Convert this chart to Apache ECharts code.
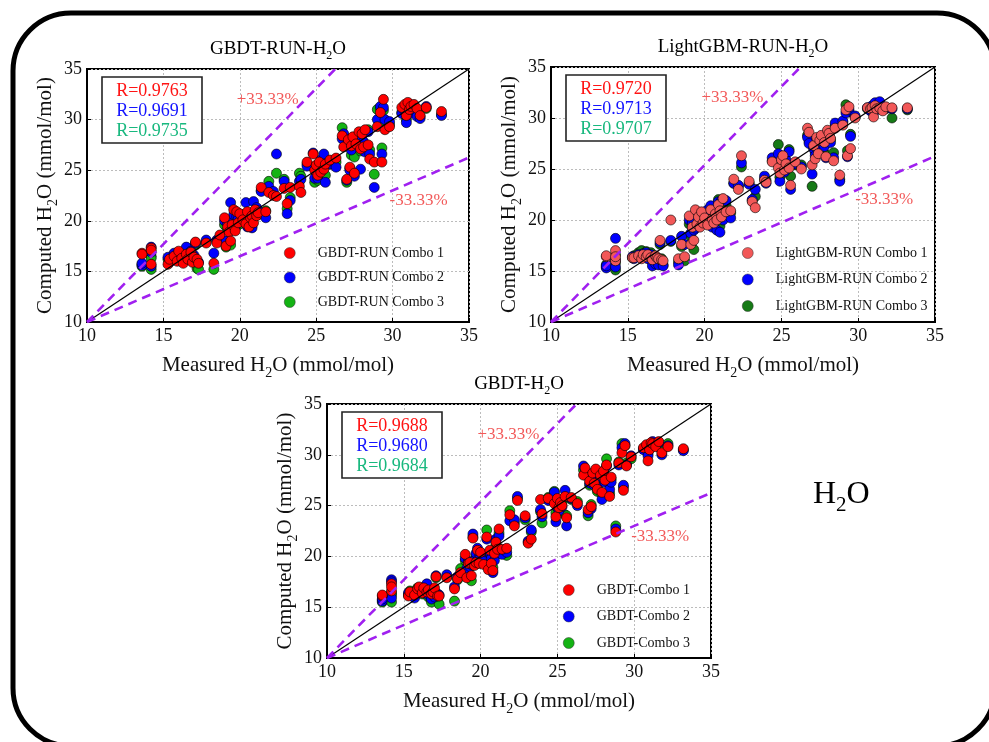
<!DOCTYPE html>
<html>
<head>
<meta charset="utf-8">
<script src="https://cdn.jsdelivr.net/npm/echarts@6/dist/echarts.min.js"></script>
<style>
  html, body { margin: 0; padding: 0; background: #ffffff; }
  #chart { width: 989px; height: 742px; }
</style>
</head>
<body>
<div id="chart"></div>
<script>
// Measured H2O (mmol/mol), shared by every model panel
const measured = [
  13.6,13.6,14.2,14.2,14.2,15.3,15.4,15.7,15.9,16.0,
  16.2,16.3,16.5,16.6,16.8,16.9,17.0,17.1,17.2,17.3,
  17.8,18.3,18.5,18.7,19.0,19.1,19.2,19.3,19.4,19.5,
  19.6,19.7,19.8,19.9,20.0,20.2,20.4,20.5,20.6,20.7,
  20.8,20.9,21.0,21.1,21.2,21.4,21.7,21.9,22.2,22.4,
  22.9,23.1,23.3,23.9,24.0,24.4,24.8,24.9,25.0,25.1,
  25.2,25.3,25.5,25.6,25.9,26.3,26.7,26.8,27.0,27.1,
  27.2,27.3,27.4,27.5,27.6,27.8,27.9,28.0,28.1,28.2,
  28.4,28.5,28.8,29.0,29.2,29.3,29.4,29.5,29.8,30.6,
  30.8,30.9,31.0,31.1,31.2,31.4,31.6,31.8,32.2,33.2
];

// Computed H2O, GBDT-RUN
const gbdtRunC1 = [
  16.8,16.7,17.3,15.7,17.1,15.7,16.2,16.5,16.0,17.0,
  16.3,15.8,16.7,16.2,16.9,15.9,16.4,17.9,16.2,15.8,
  17.8,15.8,17.8,18.6,20.3,17.5,19.4,18.9,18.0,19.6,
  21.1,19.0,20.9,19.8,20.7,20.1,19.7,20.9,19.4,20.3,
  20.5,19.8,21.1,20.5,20.8,23.3,20.9,22.8,22.5,22.4,
  23.2,21.7,23.3,23.4,22.8,25.8,26.6,25.0,25.5,24.5,
  25.8,24.8,25.1,25.6,26.0,26.2,28.4,27.3,24.1,28.0,
  25.3,27.4,28.3,24.7,27.6,28.8,27.1,28.6,27.3,29.0,
  27.5,26.1,25.8,29.3,30.7,25.8,32.0,29.0,29.3,31.2,
  31.5,30.4,31.7,31.0,31.3,31.5,31.1,30.4,31.2,30.8
];
const gbdtRunC2 = [
  15.6,15.8,17.4,15.5,16.9,16.4,15.9,16.8,16.3,16.5,
  16.8,16.2,17.4,16.5,17.0,16.3,16.6,17.8,16.0,15.9,
  18.1,16.8,18.1,18.3,20.0,18.0,19.7,19.2,21.8,19.9,
  20.6,19.3,20.4,20.2,19.9,20.6,21.8,19.4,20.0,19.6,
  19.3,21.9,20.8,21.3,21.0,22.9,20.3,23.4,22.9,26.6,
  23.9,20.7,22.0,23.9,24.1,25.4,26.7,24.2,25.0,24.2,
  25.3,26.0,26.6,23.8,25.6,25.3,28.1,28.6,24.0,27.8,
  25.0,27.0,28.0,24.4,27.8,28.5,25.1,28.0,27.8,26.8,
  28.8,26.6,23.3,30.0,31.3,26.6,31.2,30.0,29.8,30.6,
  30.9,29.7,31.2,30.6,31.4,31.0,30.3,30.1,31.3,30.4
];
const gbdtRunC3 = [
  15.5,15.7,16.5,15.2,16.3,16.2,16.1,16.7,16.6,16.4,
  16.6,16.0,16.9,16.3,16.8,16.0,16.2,17.6,15.3,15.2,
  17.9,15.2,18.0,18.2,19.6,17.4,19.1,19.0,17.6,19.5,
  20.3,19.4,20.2,19.6,20.1,20.3,20.4,19.5,19.9,19.9,
  19.5,20.6,21.0,20.9,20.6,23.0,21.0,23.9,22.6,24.7,
  24.1,21.2,22.3,24.7,24.4,25.6,25.3,23.8,24.8,24.0,
  25.6,25.2,24.3,24.5,25.6,25.8,29.2,28.4,23.8,27.5,
  25.2,26.5,27.7,26.3,27.3,28.1,26.9,27.7,27.5,27.1,
  29.0,27.0,24.6,31.0,31.1,27.2,30.9,29.6,29.5,30.7,
  30.8,30.0,31.0,30.8,31.2,31.2,30.6,30.3,31.1,30.5
];

// Computed H2O, LightGBM-RUN
const lgbmRunC1 = [
  16.4,16.5,17.0,16.0,16.4,16.3,16.3,16.5,16.2,16.6,
  16.4,16.6,16.3,16.1,16.5,16.3,16.2,18.0,16.1,16.0,
  20.0,16.2,17.6,16.4,20.4,17.6,19.3,18.0,21.0,19.6,
  20.3,19.3,20.8,19.7,20.2,19.5,21.0,20.1,19.7,20.6,
  20.0,21.5,20.9,20.3,22.1,20.8,20.9,24.0,23.0,26.3,
  23.8,21.8,21.2,23.9,23.7,25.7,25.1,24.6,25.9,26.3,
  24.9,25.5,25.1,23.4,25.7,25.0,29.0,28.6,25.4,27.3,
  26.0,28.1,26.5,27.8,28.3,27.6,26.2,28.8,28.5,28.0,
  25.8,29.0,24.4,29.3,30.8,26.3,31.1,27.0,30.0,31.0,
  30.9,31.0,30.1,31.2,30.9,31.0,30.7,31.1,31.0,31.0
];
const lgbmRunC2 = [
  15.3,15.5,18.2,15.4,16.1,16.4,16.2,16.6,16.4,16.7,
  16.8,16.2,16.6,15.5,15.7,16.3,15.6,17.8,16.0,15.5,
  18.0,15.6,18.4,17.6,20.0,18.7,19.8,19.0,19.2,20.3,
  20.6,19.6,20.3,20.1,20.0,21.0,21.4,19.3,20.1,19.9,
  19.0,21.8,18.8,21.9,20.0,21.9,20.2,23.6,23.4,25.6,
  23.5,22.0,23.0,24.3,23.6,26.1,26.5,23.8,25.1,25.6,
  24.7,25.9,26.7,23.0,25.5,25.2,28.1,27.5,24.5,27.0,
  26.3,28.0,26.9,27.3,28.0,27.2,26.1,28.6,28.2,27.6,
  26.1,29.5,23.8,29.7,30.5,26.2,30.8,28.2,30.2,31.0,
  30.7,31.2,30.5,31.5,31.2,31.6,30.9,31.0,30.9,30.9
];
const lgbmRunC3 = [
  15.4,15.6,16.6,15.1,15.8,16.3,16.5,16.8,17.0,16.6,
  16.9,16.4,16.8,15.9,16.2,16.1,15.9,17.6,16.2,15.6,
  17.9,15.9,17.4,16.0,19.6,18.4,19.5,17.1,19.4,20.0,
  20.4,19.4,20.5,19.9,20.3,20.6,21.0,19.6,20.0,20.2,
  19.6,22.0,19.4,21.6,20.6,21.4,20.7,23.6,23.3,25.2,
  23.6,21.9,22.3,24.0,23.9,25.8,27.4,24.2,25.4,25.0,
  25.2,25.6,26.9,24.3,25.4,25.4,28.3,27.7,23.3,27.1,
  26.6,27.8,27.0,27.5,28.1,27.4,26.4,28.5,28.4,27.9,
  26.6,29.2,24.0,29.6,31.3,26.8,30.6,28.4,30.1,30.9,
  30.8,31.1,30.7,31.3,31.0,31.4,30.8,30.9,30.0,30.8
];

// Computed H2O, GBDT
const gbdtC1 = [
  16.1,16.2,17.3,16.6,17.0,16.1,16.5,16.2,16.8,17.0,
  16.4,16.9,16.5,16.7,16.3,16.5,16.9,18.0,16.1,16.1,
  17.9,16.8,17.8,18.4,20.2,17.9,19.3,19.4,18.1,21.8,
  19.1,19.4,20.6,19.3,20.4,19.2,21.9,18.7,20.6,19.3,
  18.6,20.3,21.4,20.7,22.7,20.7,20.8,24.1,23.0,25.5,
  24.0,21.3,21.7,25.6,24.2,25.7,25.2,23.9,25.7,24.8,
  25.3,25.0,25.9,23.8,25.8,25.2,28.0,28.7,24.6,27.4,
  24.9,28.2,27.2,28.6,26.6,28.0,26.3,28.4,27.5,29.0,
  25.9,27.8,22.4,29.2,30.2,26.5,30.9,28.9,29.8,30.7,
  31.0,29.4,30.5,31.2,31.1,30.8,31.3,30.2,30.8,30.6
];
const gbdtC2 = [
  15.6,15.8,17.7,15.9,17.5,16.4,16.3,15.9,16.6,16.8,
  16.6,16.5,17.3,16.2,15.8,16.7,16.0,18.1,16.3,16.2,
  18.2,17.0,18.0,18.3,19.8,18.8,19.5,19.0,19.2,22.2,
  19.6,20.3,20.8,19.9,20.0,19.5,21.7,19.0,20.4,19.8,
  18.4,19.6,21.7,20.5,22.0,20.2,20.4,23.5,23.6,25.9,
  23.8,21.5,22.6,24.6,23.9,25.5,26.3,23.4,24.8,24.5,
  25.2,24.9,26.5,23.0,25.7,25.0,28.9,28.2,24.3,27.2,
  24.7,27.9,27.0,28.4,26.8,27.8,25.6,28.3,27.3,28.9,
  26.6,27.3,22.7,29.0,30.7,27.0,31.1,29.0,29.9,30.5,
  30.7,29.9,30.6,31.0,31.3,30.9,31.2,30.0,30.9,30.4
];
const gbdtC3 = [
  15.5,15.7,16.2,15.5,16.4,16.2,16.6,16.1,16.9,16.7,
  16.3,16.6,16.4,16.0,15.5,16.3,16.5,17.9,15.9,15.3,
  18.0,15.6,17.7,18.8,19.6,18.5,19.2,18.9,17.6,21.9,
  19.4,20.0,20.4,19.7,19.8,19.8,22.6,19.1,20.2,20.0,
  18.9,20.0,21.2,20.9,22.3,20.4,20.1,24.5,23.3,25.7,
  23.6,21.4,22.4,24.4,23.3,25.8,26.4,24.3,25.0,24.9,
  25.5,25.3,24.1,24.0,25.6,25.4,28.5,28.0,24.0,27.0,
  25.1,27.6,27.3,28.1,26.4,27.5,26.1,28.1,27.6,29.6,
  26.2,27.6,23.0,29.3,31.1,26.8,30.9,29.2,29.6,30.6,
  30.9,30.1,30.8,31.1,31.2,31.0,30.9,30.4,31.1,30.5
];

// Correlation coefficients per combo
const rGbdtRun = ['0.9763', '0.9691', '0.9735'];
const rLgbmRun = ['0.9720', '0.9713', '0.9707'];
const rGbdt = ['0.9688', '0.9680', '0.9684'];

// Shared axis range and ticks
const axisTicks = [10, 15, 20, 25, 30, 35];
// Error band: the +/-33.33% guide lines end where ratio 1.3333 meets the frame
const bandRatio = 1.3333;
const bandLabels = ['+33.33%', '-33.33%'];
const bandLabelAt = [[19.8, 32.0], [29.8, 22.0]];

const FONT = 'Liberation Serif';
const AXIS_MIN = axisTicks[0];
const AXIS_MAX = axisTicks[axisTicks.length - 1];

function subText(pre, post) {
  return '{a|' + pre + '}{b|2}{a|' + post + '}';
}
function subRich(size, color) {
  return {
    a: { fontSize: size, fontFamily: FONT, color: color, verticalAlign: 'top' },
    b: { fontSize: Math.round(size * 0.65), fontFamily: FONT, color: color,
         verticalAlign: 'top', padding: [Math.round(size * 0.5), 0, 0, 0] }
  };
}

const panels = [
  {
    title: 'GBDT-RUN-H', prefix: 'GBDT-RUN Combo ',
    series: [gbdtRunC1, gbdtRunC2, gbdtRunC3], r: rGbdtRun,
    colors: ['#ff0000', '#0000ff', '#14b314'],
    grid: { left: 87, top: 69, width: 382, height: 253 },
    legend: { left: 284, top: 246, itemGap: 10.5 }
  },
  {
    title: 'LightGBM-RUN-H', prefix: 'LightGBM-RUN Combo ',
    series: [lgbmRunC1, lgbmRunC2, lgbmRunC3], r: rLgbmRun,
    colors: ['#f25858', '#0000ff', '#167a16'],
    grid: { left: 551, top: 67, width: 384, height: 255 },
    legend: { left: 742, top: 246, itemGap: 12.5 }
  },
  {
    title: 'GBDT-H', prefix: 'GBDT-Combo ',
    series: [gbdtC1, gbdtC2, gbdtC3], r: rGbdt,
    colors: ['#ff0000', '#0000ff', '#14b314'],
    grid: { left: 327, top: 404, width: 384, height: 254 },
    legend: { left: 563, top: 583, itemGap: 12.5 }
  }
];
const rColors = ['#ff1414', '#1414ff', '#18b87e'];

const grids = [], xAxes = [], yAxes = [], legends = [], series = [];

panels.forEach((p, i) => {
  grids.push(Object.assign({ show: true, borderColor: '#000', borderWidth: 2, containLabel: false }, p.grid));

  const axisCommon = {
    gridIndex: i, type: 'value', min: AXIS_MIN, max: AXIS_MAX, interval: axisTicks[1] - axisTicks[0],
    nameLocation: 'middle',
    axisLine: { show: true, onZero: false, lineStyle: { color: '#000', width: 2 } },
    axisTick: { show: true, inside: true, length: 4, lineStyle: { color: '#000', width: 1 } },
    axisLabel: { fontFamily: FONT, fontSize: 18, color: '#111', showMinLabel: true, showMaxLabel: true, margin: 5 },
    splitLine: { show: true, lineStyle: { color: '#bcbcbc', width: 1, type: [2, 2] } }
  };
  xAxes.push(Object.assign({}, axisCommon, {
    name: subText('Measured H', 'O (mmol/mol)'), nameGap: 33,
    nameTextStyle: { rich: subRich(21, '#111') }
  }));
  yAxes.push(Object.assign({}, axisCommon, {
    name: subText('Computed H', 'O (mmol/mol)'), nameGap: 27,
    nameTextStyle: { rich: subRich(21, '#111') }
  }));

  const names = [1, 2, 3].map(k => p.prefix + k);
  legends.push({
    orient: 'vertical', left: p.legend.left, top: p.legend.top, padding: 0,
    itemGap: p.legend.itemGap, itemWidth: 46, itemHeight: 11, icon: 'circle',
    selectedMode: false, data: names,
    itemStyle: { borderWidth: 0.5, borderColor: '#333' },
    textStyle: { fontFamily: FONT, fontSize: 14, color: '#111' }
  });

  // Combo 3 underneath, Combo 1 on top
  [2, 1, 0].forEach(k => {
    series.push({
      type: 'scatter', name: names[k], xAxisIndex: i, yAxisIndex: i,
      data: measured.map((m, j) => [m, p.series[k][j]]),
      symbol: 'circle', symbolSize: 10, z: 2 + (2 - k),
      itemStyle: { color: p.colors[k], borderColor: '#000', borderWidth: 0.6, opacity: 1 },
      emphasis: { disabled: true }
    });
  });

  const bandEnd = AXIS_MAX / bandRatio;
  const guides = [
    { data: [[AXIS_MIN, AXIS_MIN], [AXIS_MAX, AXIS_MAX]], style: { color: '#000', width: 1.2, type: 'solid' } },
    { data: [[AXIS_MIN, AXIS_MIN], [bandEnd, AXIS_MAX]], style: { color: '#a020f0', width: 2.6, type: [9, 6] } },
    { data: [[AXIS_MIN, AXIS_MIN], [AXIS_MAX, bandEnd]], style: { color: '#a020f0', width: 2.6, type: [9, 6] } }
  ];
  guides.forEach(g => {
    series.push({
      type: 'line', xAxisIndex: i, yAxisIndex: i, data: g.data, showSymbol: false, symbol: 'none',
      silent: true, z: 8, lineStyle: g.style, emphasis: { disabled: true }
    });
  });
});

const chart = echarts.init(document.getElementById('chart'));
chart.setOption({
  animation: false,
  backgroundColor: '#ffffff',
  grid: grids, xAxis: xAxes, yAxis: yAxes, legend: legends, series: series
});

// Frame, titles, correlation boxes and band labels
const graphics = [{
  type: 'rect', z: 0, silent: true,
  shape: { x: 13, y: 13, width: 982, height: 733, r: 58 },
  style: { fill: 'none', stroke: '#000', lineWidth: 5 }
}, {
  type: 'text', z: 10, silent: true, x: 813, y: 497,
  style: { text: subText('H', 'O'), rich: subRich(32, '#111'), align: 'left', verticalAlign: 'middle' }
}];

panels.forEach((p, i) => {
  const g = p.grid;
  graphics.push({
    type: 'text', z: 10, silent: true, x: g.left + g.width / 2, y: g.top - 18,
    style: { text: subText(p.title, 'O'), rich: subRich(19, '#111'), align: 'center', verticalAlign: 'middle' }
  });
  const bx = g.left + 15, by = g.top + 8;
  graphics.push({
    type: 'rect', z: 10, silent: true,
    shape: { x: bx, y: by, width: 100, height: 66 },
    style: { fill: '#fff', stroke: '#222', lineWidth: 1.6 }
  });
  p.r.forEach((r, k) => {
    graphics.push({
      type: 'text', z: 11, silent: true, x: bx + 50, y: by + 14 + k * 20,
      style: { text: 'R=' + r, fill: rColors[k], fontFamily: FONT, fontSize: 18, align: 'center', verticalAlign: 'middle' }
    });
  });
  bandLabels.forEach((label, k) => {
    const pt = chart.convertToPixel({ gridIndex: i }, bandLabelAt[k]);
    graphics.push({
      type: 'text', z: 11, silent: true, x: pt[0], y: pt[1],
      style: { text: label, fill: '#f25a5a', fontFamily: FONT, fontSize: 17, align: 'left', verticalAlign: 'middle' }
    });
  });
});

chart.setOption({ graphic: graphics });
</script>
</body>
</html>
